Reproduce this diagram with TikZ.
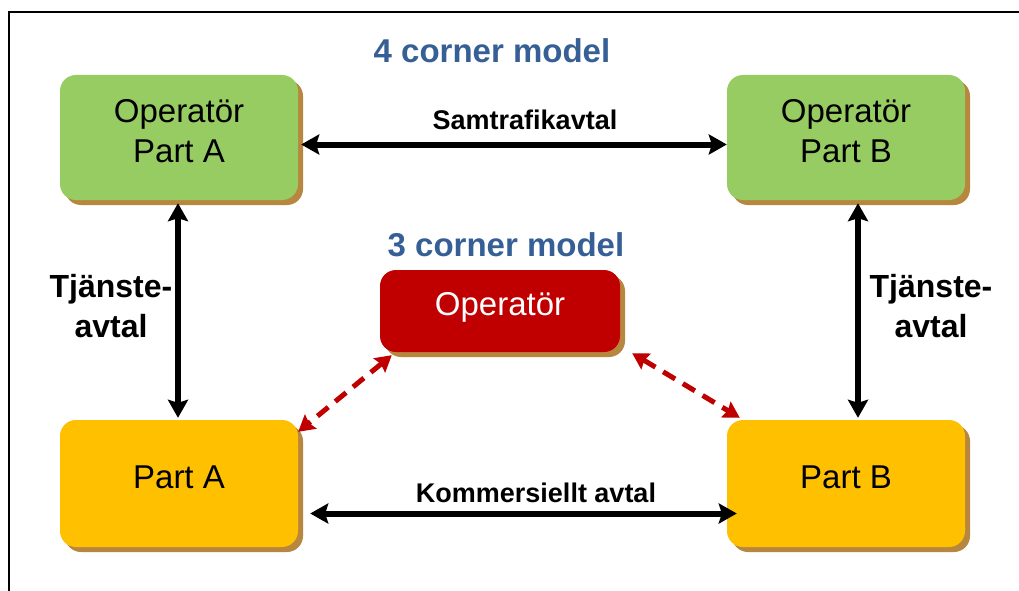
\documentclass[tikz,border=0pt]{standalone}
\usepackage{fontspec}
\setmainfont{Liberation Sans}
\usetikzlibrary{arrows.meta,shadows,calc}
\definecolor{boxgreen}{HTML}{97CC63}
\definecolor{boxyellow}{HTML}{FFC000}
\definecolor{boxred}{HTML}{C00000}
\definecolor{shadowbrown}{HTML}{B7873F}
\definecolor{titleblue}{HTML}{365F96}
\tikzset{
  box/.style={rounded corners=16pt, minimum width=238pt, minimum height=125pt,
    inner sep=0pt, align=center, font=\fontsize{33}{40}\selectfont,
    general shadow={shadow xshift=5pt, shadow yshift=-5pt, fill=shadowbrown}},
  greenbox/.style={box, fill=boxgreen, text depth=13pt},
  yellowbox/.style={box, fill=boxyellow, minimum height=127pt, text height=24pt, text depth=15pt},
  redbox/.style={box, fill=boxred, text=white, minimum width=240pt, minimum height=82pt,
    text height=24pt, text depth=16pt},
  title/.style={anchor=base, text=titleblue, font=\bfseries\fontsize{33}{40}\selectfont, inner sep=0pt},
  lbl/.style={anchor=base, font=\bfseries\fontsize{27}{32}\selectfont, inner sep=0pt},
  sidelbl/.style={align=center, font=\bfseries\fontsize{32}{40}\selectfont, inner sep=0pt},
  biarrow/.style={line width=6pt, {Stealth[length=18pt,width=20pt,inset=3pt]}-{Stealth[length=18pt,width=20pt,inset=3pt]}},
  redarrow/.style={line width=5pt, boxred, dash pattern=on 14pt off 9pt,
    {Stealth[length=16pt,width=18pt,inset=2pt]}-{Stealth[length=16pt,width=18pt,inset=2pt]}},
  frame/.style={line width=1.4pt}
}
\begin{document}
\begin{tikzpicture}[x=1pt,y=-1pt]
\useasboundingbox (0,0) rectangle (1019,591);
\fill[white] (0,0) rectangle (1019,591);
\draw[frame] (1019,12) -- (9,12) -- (9,591);

\node[greenbox] (OA) at (179,137.5) {Operatör\\Part A};
\node[greenbox] (OB) at (846,137.5) {Operatör\\Part B};
\node[yellowbox] (PA) at (179,483.5) {Part A};
\node[yellowbox] (PB) at (846,483.5) {Part B};
\node[redbox] (OP) at (500,311) {Operatör};

\node[title] (t4) at (492,63) {4 corner model};
\node[title] (t3) at (506,256) {3 corner model};
\node[lbl] (samt) at (525,129) {Samtrafikavtal};
\node[lbl] (komm) at (536,502) {Kommersiellt avtal};
\node[sidelbl] (tjL) at (111,306) {Tjänste-\\avtal};
\node[sidelbl] (tjR) at (931,306) {Tjänste-\\avtal};

\draw[biarrow] ($(OA.east)+(3,7)$) -- ($(OB.west)+(0,7)$);
\draw[biarrow] ($(PA.east)+(12,30)$) -- ($(PB.west)+(10,30)$);
\draw[biarrow] ($(OA.south)+(-1,3)$) -- ($(PA.north)+(-1,-2)$);
\draw[biarrow] ($(OB.south)+(12,3)$) -- ($(PB.north)+(12,-2)$);
\draw[redarrow] ($(OP.south west)+(12,3)$) -- ($(PA.north east)+(0,12)$);
\draw[redarrow] ($(OP.south east)+(12,1)$) -- ($(PB.north west)+(13,-2)$);
\end{tikzpicture}
\end{document}
